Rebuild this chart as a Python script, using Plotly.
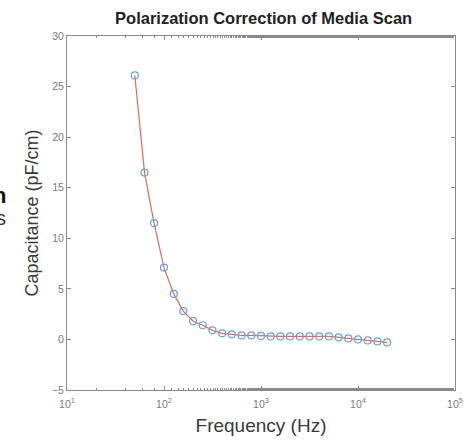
import plotly.graph_objects as go

# Data
freq_hz = [50, 63, 79, 100, 126, 158, 200, 251, 316, 398, 501, 631, 794,
           1000, 1259, 1585, 1995, 2512, 3162, 3981, 5012, 6310, 7943,
           10000, 12589, 15849, 19953]
capacitance = [26.1, 16.5, 11.5, 7.1, 4.5, 2.8, 1.8, 1.4, 0.9, 0.6, 0.5,
               0.4, 0.4, 0.35, 0.3, 0.3, 0.3, 0.3, 0.3, 0.3, 0.3, 0.2,
               0.1, 0.0, -0.1, -0.2, -0.3]
x_tickvals = [10, 100, 1000, 10000, 100000]
x_ticktext = ["10<sup>1</sup>", "10<sup>2</sup>", "10<sup>3</sup>",
              "10<sup>4</sup>", "10<sup>5</sup>"]
y_tickvals = [-5, 0, 5, 10, 15, 20, 25, 30]

fig = go.Figure()
fig.add_trace(go.Scatter(
    x=freq_hz, y=capacitance, mode="lines",
    line=dict(color="rgb(215,110,90)", width=1.2), showlegend=False))
fig.add_trace(go.Scatter(
    x=freq_hz, y=capacitance, mode="markers",
    marker=dict(symbol="circle-open", size=7,
                color="rgb(110,160,210)", line=dict(width=1.2)),
    showlegend=False))

axis_common = dict(showline=True, linecolor="#8a8a8a", linewidth=1,
                   mirror="ticks", ticks="inside", tickcolor="#8a8a8a",
                   ticklen=4, showgrid=False, zeroline=False,
                   tickfont=dict(family="Liberation Sans", size=10.5, color="#7a7a7a"))

fig.update_xaxes(type="log", range=[1, 5], tickvals=x_tickvals, ticktext=x_ticktext,
                 minor=dict(ticks="inside", ticklen=2, tickcolor="#8a8a8a"),
                 ticklabelstandoff=4,
                 title=dict(text="Frequency (Hz)", standoff=10,
                            font=dict(family="Liberation Sans", size=19, color="#3a3a3a")),
                 **axis_common)
fig.update_yaxes(range=[-5, 30], tickvals=y_tickvals,
                 title=dict(text="Capacitance (pF/cm)", standoff=8,
                            font=dict(family="Liberation Sans", size=18, color="#3a3a3a")),
                 **axis_common)

fig.update_layout(
    width=475, height=445,
    margin=dict(l=67, r=16, t=36, b=55),
    paper_bgcolor="white", plot_bgcolor="white",
    title=dict(text="<b>Polarization Correction of Media Scan</b>",
               x=0.555, xanchor="center", y=0.96, yanchor="middle",
               font=dict(family="Liberation Sans", size=16.5, color="#222")),
    annotations=[
        dict(text="<b>n</b>", xref="paper", yref="paper", x=-0.152, y=0.55,
             xanchor="right", yanchor="middle", showarrow=False,
             font=dict(family="Liberation Sans", size=22, color="#111")),
        dict(text="s", xref="paper", yref="paper", x=-0.152, y=0.485,
             xanchor="right", yanchor="middle", showarrow=False,
             font=dict(family="Liberation Sans", size=20, color="#333")),
    ],
)

fig.write_html("out.html")
